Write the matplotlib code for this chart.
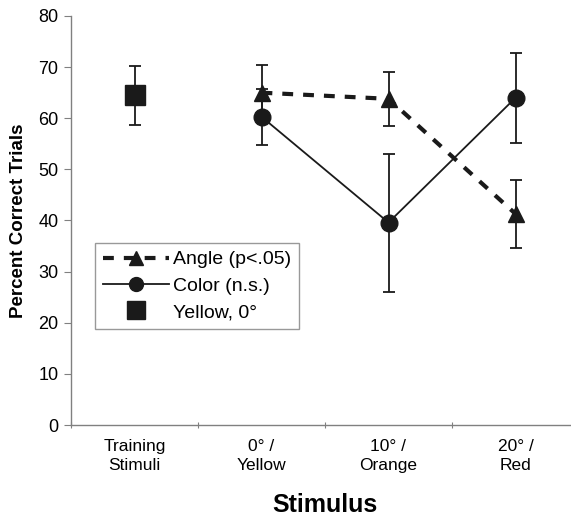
import matplotlib
matplotlib.use('Agg')
import matplotlib.pyplot as plt
from matplotlib.lines import Line2D
from matplotlib.ticker import FixedLocator, NullFormatter

plt.rcParams['font.family'] = ['Liberation Sans', 'DejaVu Sans']

# data
categories = ["Training\nStimuli", "0\u00b0 /\nYellow", "10\u00b0 /\nOrange", "20\u00b0 /\nRed"]
training_mean = [64.5]
training_err = [5.8]
angle_mean = [65.0, 63.8, 41.3]
angle_err = [5.5, 5.3, 6.6]
color_mean = [60.3, 39.6, 64.0]
color_err = [5.5, 13.5, 8.8]
legend_labels = ['Angle (p<.05)', 'Color (n.s.)', 'Yellow, 0\u00b0']

fig = plt.figure(figsize=(5.71, 5.23), dpi=100)
ax = fig.add_axes([71 / 571, 98 / 523, 4 * 127 / 571, 409 / 523])

xs = [i + 0.5 for i in range(len(categories))]
ink = '#1a1a1a'
dash = (0, (2.6, 2.4))

ax.errorbar(xs[1:], angle_mean, yerr=angle_err, color=ink, lw=3,
            ls=dash, marker='^', ms=11, capsize=4.5, elinewidth=1.3,
            capthick=1.3, ecolor=ink, zorder=3)
ax.errorbar(xs[1:], color_mean, yerr=color_err, color=ink, lw=1.3,
            marker='o', ms=12, capsize=4.5, elinewidth=1.3, capthick=1.3,
            ecolor=ink, zorder=3)
ax.errorbar(xs[:1], training_mean, yerr=training_err, color=ink, lw=0,
            marker='s', ms=15, capsize=4.5, elinewidth=1.3, capthick=1.3,
            ecolor=ink, zorder=3)

ax.set_xlim(0, 4)
ax.set_ylim(0, 80)
ax.set_yticks(range(0, 81, 10))
ax.xaxis.set_major_locator(FixedLocator([0, 1, 2, 3, 4]))
ax.xaxis.set_major_formatter(NullFormatter())
ax.xaxis.set_minor_locator(FixedLocator(xs))
ax.set_xticklabels(categories, minor=True, linespacing=1.35)
ax.tick_params(axis='x', which='minor', length=0, pad=10, labelsize=12.5)
ax.tick_params(axis='x', which='major', length=4, color='#808080', direction='inout')
ax.tick_params(axis='y', length=5, color='#808080', labelsize=13, pad=4)

for s in ['top', 'right']:
    ax.spines[s].set_visible(False)
for s in ['left', 'bottom']:
    ax.spines[s].set_color('#808080')
    ax.spines[s].set_linewidth(1.0)

ax.set_ylabel('Percent Correct Trials', fontsize=13.5, fontweight='bold', labelpad=8)
ax.set_xlabel('Stimulus', fontsize=18, fontweight='bold', labelpad=14)

handles = [
    Line2D([], [], color=ink, lw=3, ls=dash, marker='^', ms=10),
    Line2D([], [], color=ink, lw=1.3, marker='o', ms=10),
    Line2D([], [], color=ink, lw=0, marker='s', ms=13),
]
leg = ax.legend(handles, legend_labels, loc='upper left',
                bbox_to_anchor=(95 / 571, 1 - 243 / 523), bbox_transform=fig.transFigure,
                fontsize=14, frameon=True, fancybox=False, edgecolor='#808080',
                handlelength=3.4, handletextpad=0.2, borderpad=0.4, labelspacing=0.45,
                borderaxespad=0)
leg.get_frame().set_linewidth(1.0)

fig.savefig('out.png', dpi=100)
plt.close(fig)
